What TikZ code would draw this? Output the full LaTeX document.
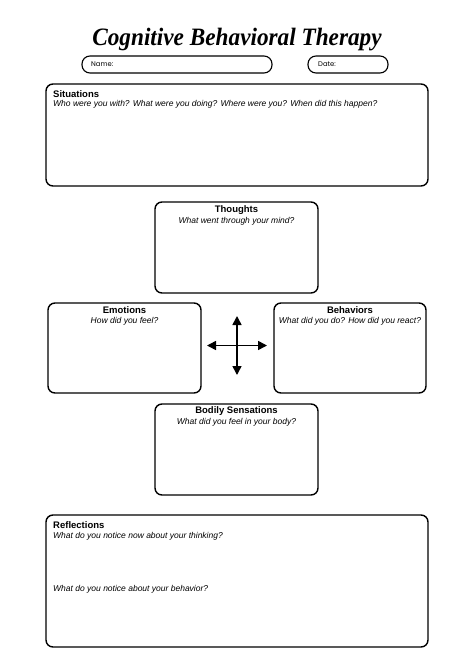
\documentclass[tikz,border=0pt]{standalone}
\usepackage{fontspec}
\setmainfont{Liberation Sans}
\newfontfamily\namefont{Poppins}
\newfontfamily\titlefont{Liberation Serif}
\usetikzlibrary{arrows.meta}
\begin{document}
\begin{tikzpicture}[x=1pt,y=-1pt,
  card/.style={draw=black,line width=1.4pt,rounded corners=7pt},
  pill/.style={draw=black,line width=1.1pt,rounded corners=8pt},
  head/.style={font=\fontsize{9.5}{11}\selectfont\bfseries,inner sep=0pt},
  sub/.style={font=\fontsize{8.5}{10}\selectfont\itshape,inner sep=0pt},
  lab/.style={font=\namefont\fontsize{6.8}{8}\selectfont,inner sep=0pt,anchor=west},
  arr/.style={line width=1.6pt,-{Triangle[length=9pt,width=9pt]}}]
\useasboundingbox (0,0) rectangle (474,670);
\fill[white] (0,0) rectangle (474,670);
\node[inner sep=0pt,font=\titlefont\fontsize{25}{28}\selectfont\bfseries\itshape] (title) at (237,40) {\scalebox{0.93}[1]{Cognitive Behavioral Therapy}};
% name/date
\draw[pill] (82,56) rectangle (272,73);
\node[lab] (name) at (91,64.5) {Name:};
\draw[pill] (308,56) rectangle (388,73);
\node[lab] (date) at (318,64.5) {Date:};
% situations
\draw[card] (46,84) rectangle (428,186);
\node[head,anchor=west] (sit) at (53,94) {Situations};
\node[sub,anchor=west] (sitq) at (53,104.5) {Who were you with? What were you doing? Where were you? When did this happen?};
% thoughts
\draw[card] (155,202) rectangle (318,293);
\node[head] (tho) at (236.5,210.5) {Thoughts};
\node[sub] (thoq) at (236.5,221.5) {What went through your mind?};
% emotions
\draw[card] (48,303) rectangle (201,393);
\node[head] (emo) at (124.5,310.5) {Emotions};
\node[sub] (emoq) at (124.5,321.5) {How did you feel?};
% behaviors
\draw[card] (274,303) rectangle (426,393);
\node[head] (beh) at (350,310.5) {Behaviors};
\node[sub] (behq) at (350,321.5) {What did you do? How did you react?};
% bodily
\draw[card] (155,404) rectangle (318,495);
\node[head] (bod) at (236.5,411.5) {Bodily Sensations};
\node[sub] (bodq) at (236.5,422.5) {What did you feel in your body?};
% arrows
\coordinate (c) at (237,345.5);
\coordinate (l) at (207,345.5);
\coordinate (r) at (267,345.5);
\coordinate (u) at (237,316);
\coordinate (d) at (237,375);
\draw[arr] (c) -- (l);
\draw[arr] (c) -- (r);
\draw[arr] (c) -- (u);
\draw[arr] (c) -- (d);
% reflections
\draw[card] (46,515) rectangle (428,647);
\node[head,anchor=west] (ref) at (53,525) {Reflections};
\node[sub,anchor=west] (refq1) at (53,536) {What do you notice now about your thinking?};
\node[sub,anchor=west] (refq2) at (53,589) {What do you notice about your behavior?};
\end{tikzpicture}
\end{document}
